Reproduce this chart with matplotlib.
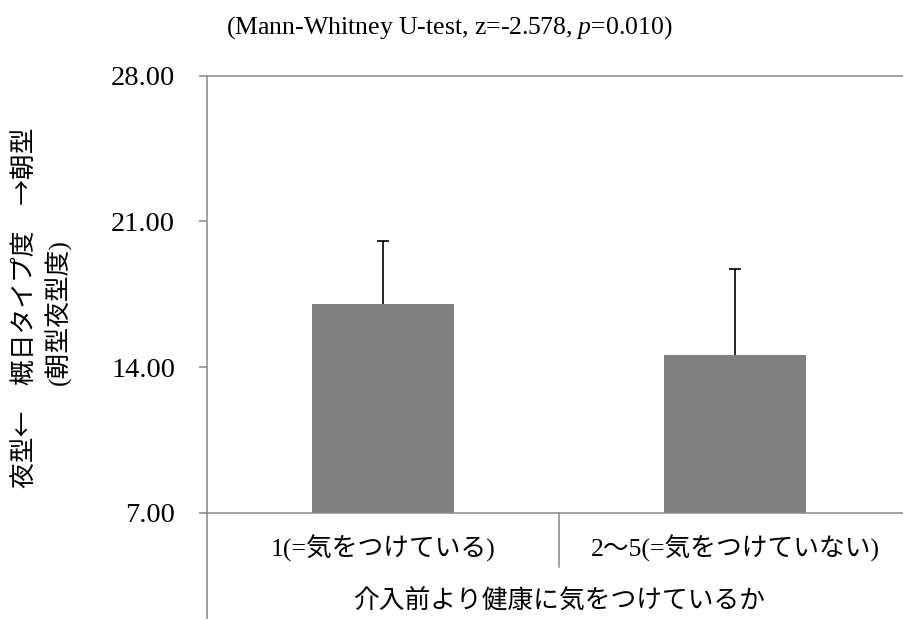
import matplotlib
matplotlib.use("Agg")
import matplotlib.pyplot as plt
from matplotlib.ticker import FormatStrFormatter
from matplotlib.lines import Line2D

# Data
categories = ["1(=気をつけている)", "2〜5(=気をつけていない)"]
group_label = "介入前より健康に気をつけているか"
means = [17.03, 14.58]
errors = [3.04, 4.14]
y_ticks = [7, 14, 21, 28]
title = "(Mann-Whitney U-test, z=-2.578, $\\mathit{p}$=0.010)"
ylabel_main = "夜型←　概日タイプ度　→朝型"
ylabel_sub = "(朝型夜型度)"

FONTS = ["Liberation Serif", "Noto Sans CJK JP"]
CJK = ["Noto Sans CJK JP", "DejaVu Sans"]
plt.rcParams["font.family"] = FONTS
plt.rcParams["mathtext.fontset"] = "custom"
plt.rcParams["mathtext.rm"] = "Liberation Serif"
plt.rcParams["mathtext.it"] = "Liberation Serif:italic"

AXIS_GRAY = "#888888"
BAR_GRAY = "#808080"

W, H = 904, 619
fig = plt.figure(figsize=(W / 100, H / 100), dpi=100)

# axes spans x 207..911 px (right end runs past the canvas), y 75.5..513 px
ax_left, ax_right = 207, 911
ax_top, ax_bottom = 75.5, 513
ax = fig.add_axes([ax_left / W, 1 - ax_bottom / H,
                   (ax_right - ax_left) / W, (ax_bottom - ax_top) / H])

x = list(range(len(categories)))
ax.bar(x, means, width=0.403, color=BAR_GRAY, zorder=2)
_, caps, _ = ax.errorbar(x, means, yerr=[[0] * len(errors), errors], fmt="none",
                         ecolor="black", elinewidth=1.2, capsize=4.5,
                         capthick=1.2, zorder=3)
# keep only the upper caps
for cap in caps:
    if list(cap.get_ydata()) == list(means):
        cap.set_visible(False)

ax.set_xlim(-0.5, len(categories) - 0.5)
ax.set_ylim(y_ticks[0], y_ticks[-1])
ax.set_yticks(y_ticks)
ax.yaxis.set_major_formatter(FormatStrFormatter("%.2f"))
ax.tick_params(axis="y", direction="out", length=6, width=1.1, color=AXIS_GRAY,
               pad=17, labelsize=20.5)
ax.set_xticks([])

for side in ("left", "bottom", "top"):
    ax.spines[side].set_color(AXIS_GRAY)
    ax.spines[side].set_linewidth(1.1)
ax.spines["right"].set_visible(False)

# category axis: inner labels, divider, outer group label
ax_h = ax_bottom - ax_top
xt = ax.get_xaxis_transform()
for i, lab in enumerate(categories):
    ax.text(i, (ax_bottom - 548) / ax_h, lab, transform=xt, ha="center",
            va="center", fontsize=18.5, family=FONTS)
for b in range(1, len(categories)):
    ax.add_line(Line2D([b - 0.5, b - 0.5], [0, (ax_bottom - 567) / ax_h],
                       transform=xt, color=AXIS_GRAY, lw=1.1, clip_on=False))
ax.add_line(Line2D([-0.5, -0.5], [0, -0.3], transform=xt, color=AXIS_GRAY,
                   lw=1.1, clip_on=False))
ax.text((len(categories) - 1) / 2, (ax_bottom - 601) / ax_h, group_label,
        transform=xt, ha="center", va="center", fontsize=18.5, family=FONTS)

# y-axis title (two lines)
fig.text(25 / W, 1 - 308 / H, ylabel_main, rotation=90, ha="center",
         va="center", fontsize=18.5, family=CJK)
fig.text(58 / W, 1 - 312 / H, ylabel_sub, rotation=90, ha="center",
         va="center", fontsize=18.5, family=FONTS)

fig.text(449 / W, 1 - 28 / H, title, ha="center", va="center", fontsize=18.5,
         family=FONTS)

fig.savefig("out.png", dpi=100)
